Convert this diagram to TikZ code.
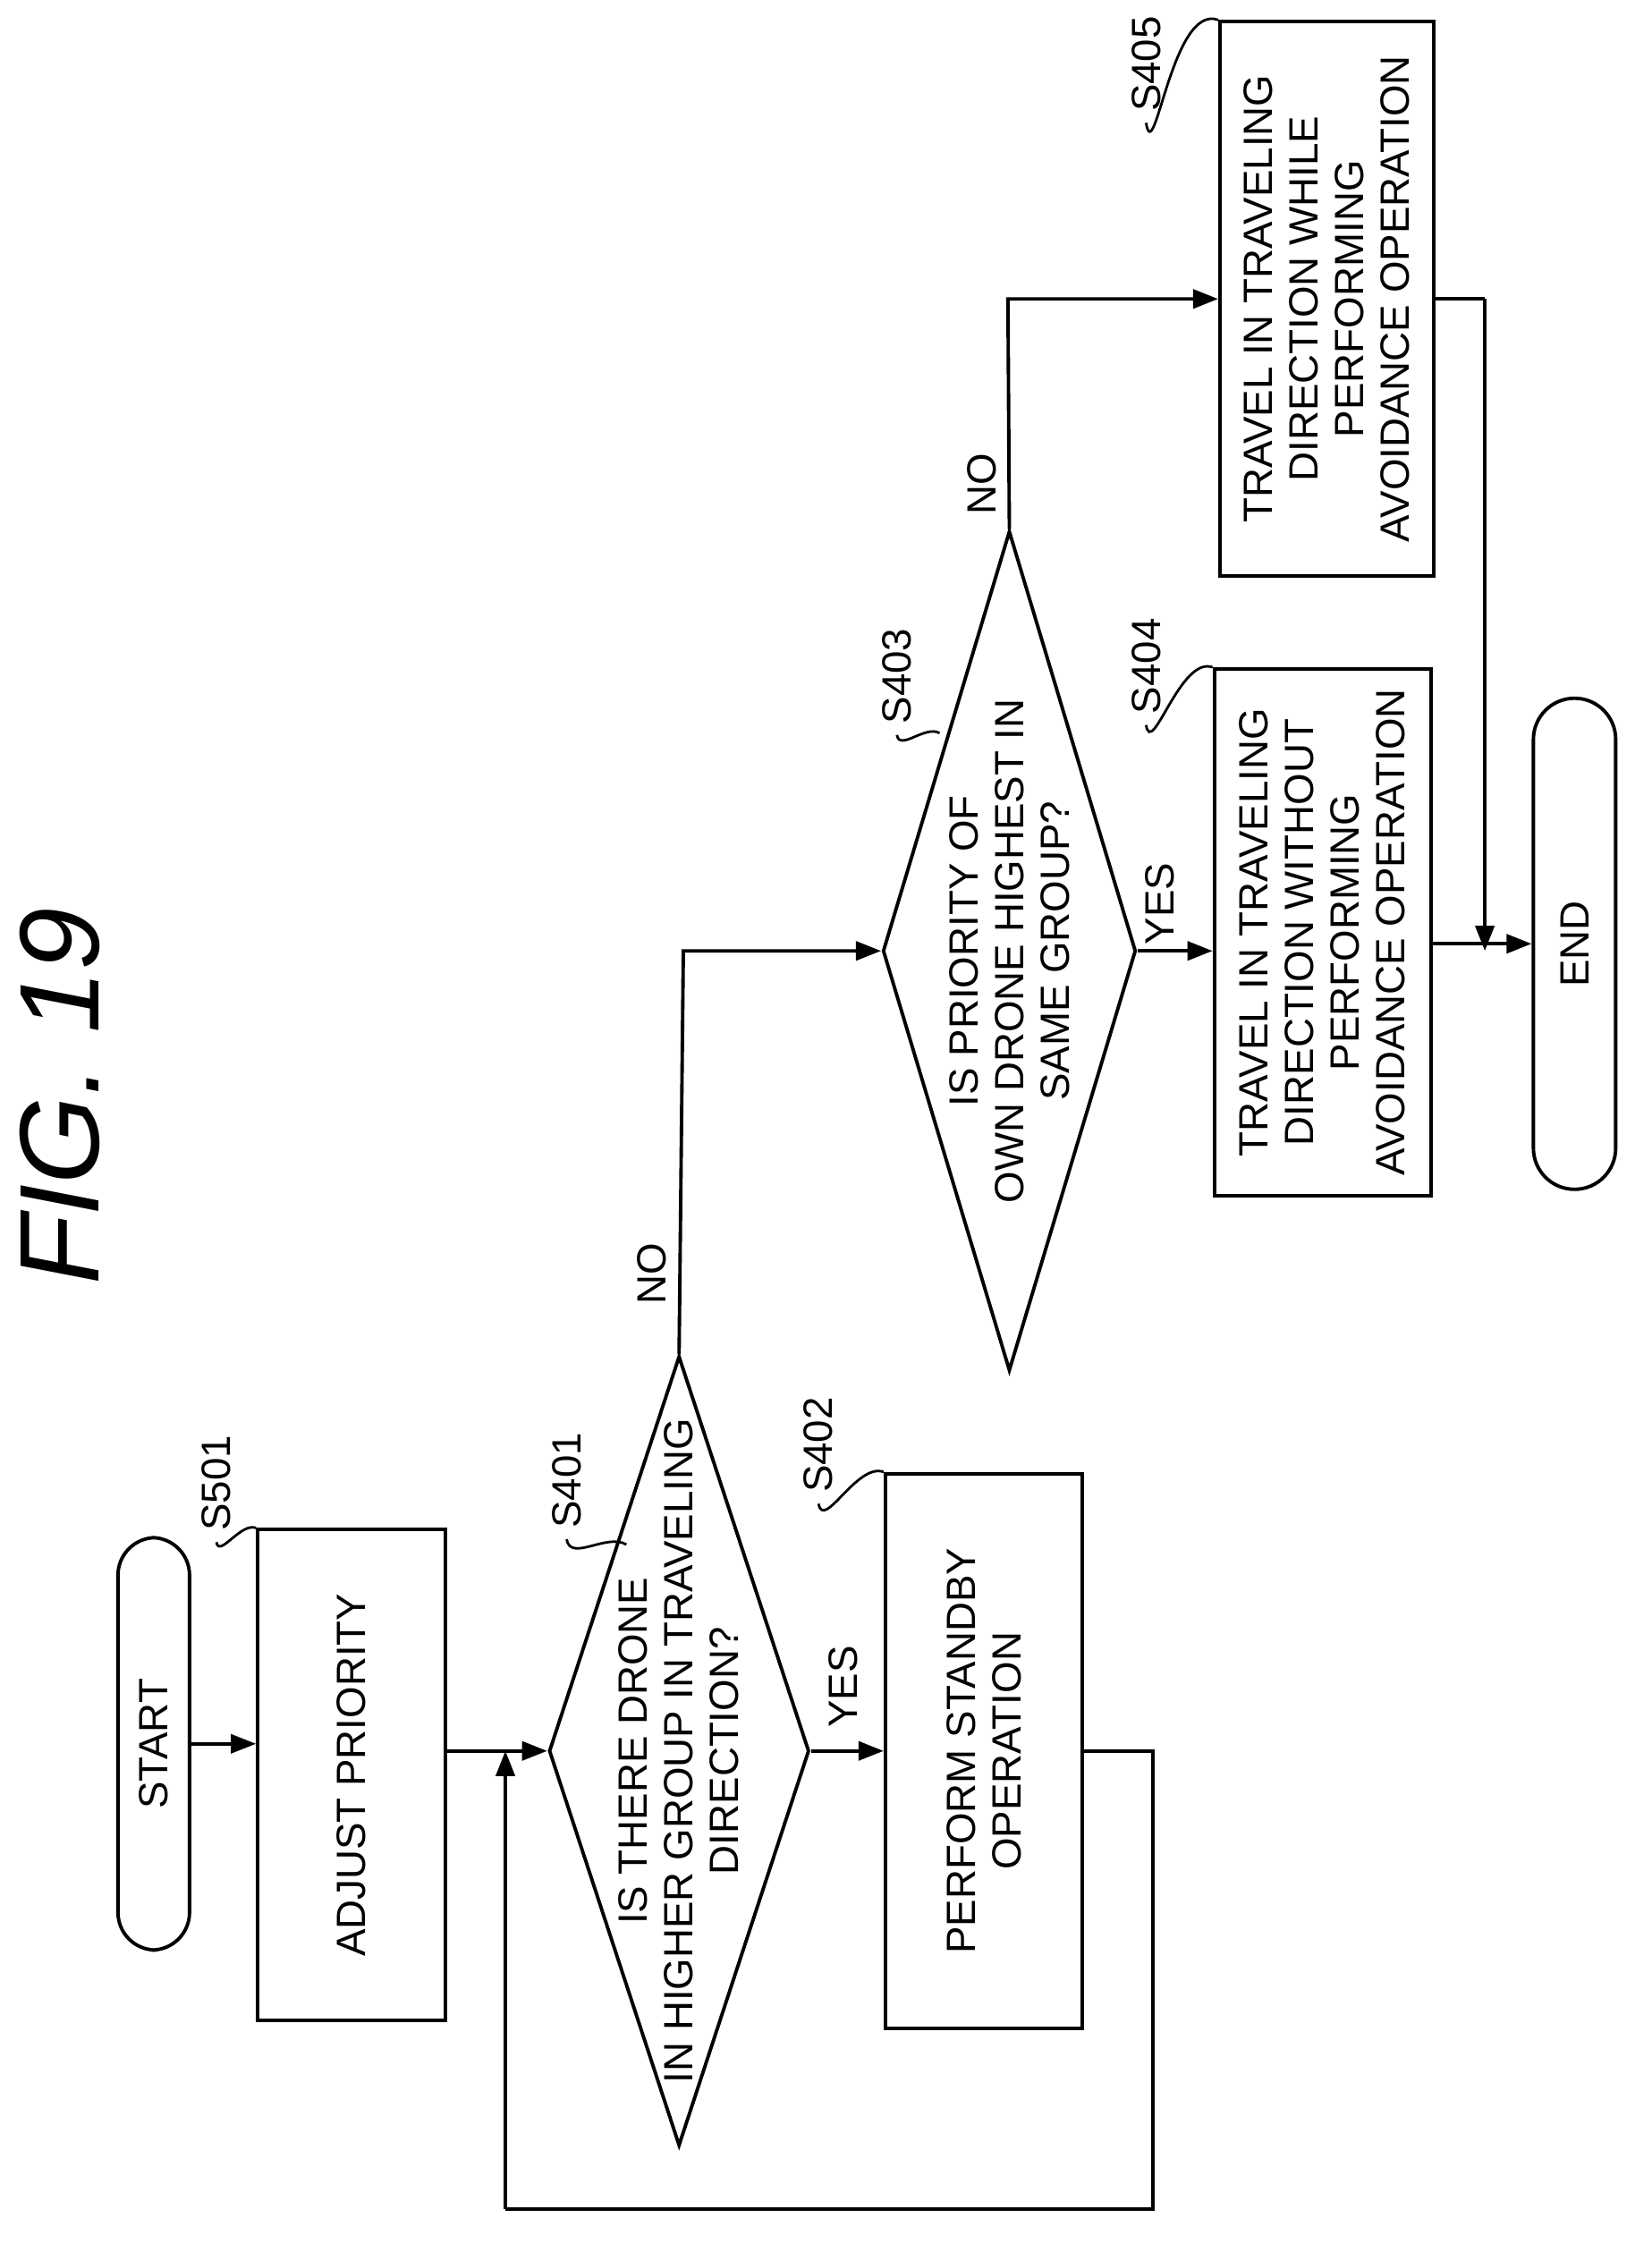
\documentclass[tikz,border=0pt]{standalone}
\usepackage{fontspec}
\setmainfont{Liberation Sans}
\usetikzlibrary{shapes.geometric, arrows.meta, positioning, calc}

\tikzset{
  box/.style={rectangle, draw, line width=1.1pt},
  term/.style={rectangle, rounded corners=0.42cm, draw, line width=1.1pt},
  decision/.style={diamond, draw, line width=1.1pt, inner sep=0pt},
  txt/.style={rotate=90, align=center, font=\fontsize{13}{14.5}\selectfont},
  steplbl/.style={rotate=90, font=\fontsize{13}{14}\selectfont},
  arr/.style={-{Triangle[length=8pt,width=6pt]}, line width=1.1pt},
  ln/.style={line width=1.1pt},
  lead/.style={line width=0.8pt},
}

\begin{document}
\begin{tikzpicture}[x=0.01591cm, y=-0.01591cm]
			\useasboundingbox (0,0) rectangle (1160,1582);
			% Title
			\node[rotate=90, font=\fontsize{36}{40}\selectfont\itshape] (title) at (42,770) {FIG. 19};

			% Start and adjust priority
			\node[term, minimum width=0.80cm, minimum height=4.61cm] (start) at (108,1225) {};
			\node[txt] (startt) at (start) {START};
			\node[box, minimum width=2.10cm, minimum height=5.49cm] (s501) at (247,1247) {};
			\node[txt] (s501t) at (s501) {ADJUST PRIORITY};

			% First decision
			\node[decision, minimum width=2.91cm, minimum height=8.83cm] (s401) at (477,1230) {};
			\node[txt] (s401t) at (477,1230) {IS THERE DRONE\\IN HIGHER GROUP IN TRAVELING\\DIRECTION?};
			\node[box, minimum width=2.20cm, minimum height=6.20cm] (s402) at (691,1230) {};
			\node[txt] (s402t) at (s402) {PERFORM STANDBY\\OPERATION};

			% Second decision
			\node[decision, minimum width=2.83cm, minimum height=9.39cm] (s403) at (709,668) {};
			\node[txt] (s403t) at (709,668) {IS PRIORITY OF\\OWN DRONE HIGHEST IN\\SAME GROUP?};
			\node[box, minimum width=2.42cm, minimum height=5.89cm] (s404) at (929,655) {};
			\node[txt] (s404t) at (s404) {TRAVEL IN TRAVELING\\DIRECTION WITHOUT\\PERFORMING\\AVOIDANCE OPERATION};
			\node[box, minimum width=2.39cm, minimum height=6.20cm] (s405) at (932,210) {};
			\node[txt] (s405t) at (s405) {TRAVEL IN TRAVELING\\DIRECTION WHILE\\PERFORMING\\AVOIDANCE OPERATION};
			\node[term, minimum width=0.92cm, minimum height=5.49cm, rounded corners=0.46cm] (end) at (1106,663) {};
			\node[txt] (endt) at (end) {END};

			% Step labels
			\node[steplbl] (l501) at (152,1042) {S501};
			\node[steplbl] (l401) at (398,1040) {S401};
			\node[steplbl] (l402) at (575,1015) {S402};
			\node[steplbl] (l403) at (630,475) {S403};
			\node[steplbl] (l404) at (805,468) {S404};
			\node[steplbl] (l405) at (805,45) {S405};
			\draw[lead] (l501.west) to[out=-80, in=160] (s501.north west);
			\draw[lead] (l401.west) to[out=-80, in=150] (440,1085);
			\draw[lead] (l402.west) to[out=-80, in=160] (s402.north west);
			\draw[lead] (l403.west) to[out=-80, in=150] (660,515);
			\draw[lead] (l404.west) to[out=-80, in=160] (s404.north west);
			\draw[lead] (l405.west) to[out=-80, in=160] (s405.north west);

			% Branch labels
			\node[steplbl] (yes1) at (592,1185) {YES};
			\node[steplbl] (no1) at (458,895) {NO};
			\node[steplbl] (yes2) at (815,635) {YES};
			\node[steplbl] (no2) at (690,340) {NO};

			% Connections
			\coordinate (j1) at (480,668);
			\coordinate (j2) at (708,210);
			\coordinate (j3) at (1043,210);
			\coordinate (j4) at (1043,668);
			\coordinate (la) at (810,1230);
			\coordinate (lb) at (810,1552);
			\coordinate (lc) at (355,1552);
			\coordinate (ld) at (355,1230);
			\draw[arr] (start.east) -- (start.east -| s501.west);
			\draw[arr] (s501.east |- s401.west) -- (s401.west);
			\draw[arr] (s401.east) -- (s402.west);
			\draw[ln] (s402.east) -- (la) -- (lb) -- (lc);
			\draw[arr] (lc) -- (ld);
			\draw[arr] (s401.north) -- (j1) -- (s403.west);
			\draw[arr] (s403.east) -- (s403.east -| s404.west);
			\draw[arr] (s403.north) -- (j2) -- (s405.west);
			\draw[arr] (s404.east |- end.west) -- (end.west);
			\draw[ln] (s405.east) -- (j3);
			\draw[arr] (j3) -- (j4);
		\end{tikzpicture}
\end{document}
